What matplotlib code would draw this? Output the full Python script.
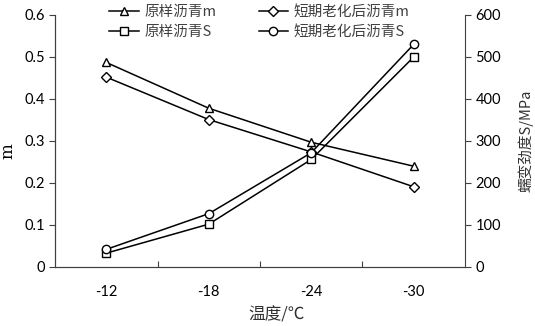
import numpy as np
import matplotlib.pyplot as plt

plt.rcParams['font.family'] = ['Lato', 'Noto Sans CJK SC', 'DejaVu Sans']

# data
temps = ['-12', '-18', '-24', '-30']
m_orig = [0.487, 0.378, 0.297, 0.240]
m_aged = [0.452, 0.351, 0.274, 0.191]
s_orig = [33, 102, 256, 500]
s_aged = [42, 127, 272, 530]

x = np.arange(len(temps))

fig = plt.figure(figsize=(5.35, 3.26), dpi=100)
ax = fig.add_axes([0.103, 0.181, 0.766, 0.773])
ax2 = ax.twinx()

mk = dict(color='black', lw=1.1, markerfacecolor='white', markeredgecolor='black',
          markeredgewidth=1.0, markersize=6)
l1, = ax.plot(x, m_orig, marker='^', **mk)
l2, = ax.plot(x, m_aged, marker='D', **dict(mk, markersize=5))
l3, = ax2.plot(x, s_orig, marker='s', **mk)
l4, = ax2.plot(x, s_aged, marker='o', **mk)

ax.set_xlim(-0.5, 3.5)
ax.set_ylim(0, 0.6)
ax2.set_ylim(0, 600)
ax.set_yticks(np.arange(0, 0.61, 0.1))
ax.set_yticklabels(['0', '0.1', '0.2', '0.3', '0.4', '0.5', '0.6'])
ax2.set_yticks(np.arange(0, 601, 100))

ax.set_xticks([0.5, 1.5, 2.5])
ax.set_xticklabels([])
ax.set_xticks(x, minor=True)
ax.set_xticklabels(temps, minor=True)
ax.tick_params(axis='x', which='major', direction='in', length=4, color='#404040')
ax.tick_params(axis='x', which='minor', length=0, pad=13, labelsize=10.5)
ax.tick_params(axis='y', direction='out', length=4, labelsize=10.5, color='#404040')
ax2.tick_params(axis='y', direction='out', length=4, labelsize=10.5, color='#404040')

for a in (ax, ax2):
    a.spines['top'].set_visible(False)
    for s in ('left', 'right', 'bottom'):
        a.spines[s].set_color('#404040')
ax.spines['right'].set_visible(False)

ax.set_ylabel('m', fontsize=12, family=['DejaVu Serif'])
ax.yaxis.set_label_coords(-0.095, 0.46)
ax2.set_ylabel('蠕变劲度S/MPa', fontsize=10.5, family=['Noto Sans CJK SC', 'DejaVu Sans'],
               color='#303030')
ax2.yaxis.set_label_coords(1.13, 0.5)
ax.set_xlabel('温度/℃', fontsize=12, family=['Noto Sans CJK SC', 'DejaVu Sans'],
              color='#303030')
ax.xaxis.set_label_coords(0.54, -0.155)

fig.legend([l1, l3, l2, l4], ['原样沥青m', '原样沥青S', '短期老化后沥青m', '短期老化后沥青S'],
           ncol=2, loc='upper left', bbox_to_anchor=(0.18, 1.025), frameon=False,
           prop={'family': ['Noto Sans CJK SC', 'DejaVu Sans'], 'size': 10.5},
           handlelength=2.0, columnspacing=2.9, labelspacing=0.4, handletextpad=0.4,
           labelcolor='#404040')

fig.savefig('out.png', dpi=100)
